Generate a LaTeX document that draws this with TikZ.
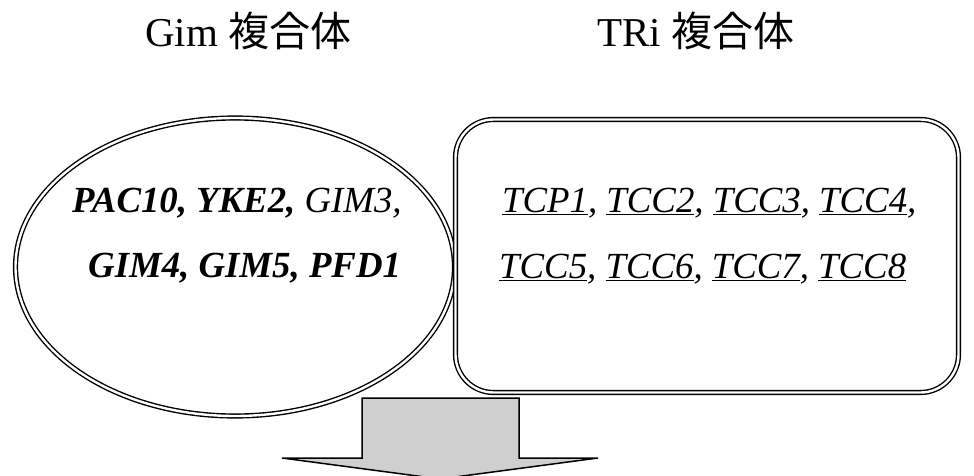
\documentclass[tikz,border=0pt]{standalone}
\usepackage{fontspec}
\setmainfont{Liberation Serif}
\newfontfamily\cjk{Noto Sans CJK JP}
\usetikzlibrary{shapes.geometric}
\tikzset{
  dbl/.style={draw=black, line width=1.4pt, double=white, double distance=2.4pt},
  gene/.style={anchor=base west, inner sep=0pt, font=\fontsize{36.8}{40}\selectfont\itshape},
  title/.style={anchor=base west, inner sep=0pt, font=\fontsize{41}{44}\selectfont},
  blockarrow/.style={draw=black, line width=1.5pt, fill=gray!38, line join=miter}
}
\begin{document}
\begin{tikzpicture}[x=1pt,y=-1pt]
\useasboundingbox (0,0) rectangle (974,476);
\clip (0,0) rectangle (974,476);
% block arrow
\path[blockarrow] (362,398) -- (519,398) -- (519,458) -- (598,458) -- (440,479) -- (282,458) -- (362,458) -- cycle;
% complexes
\node[dbl, ellipse, minimum width=439pt, minimum height=298pt, inner sep=0pt] (gim) at (235,267) {};
\node[dbl, rectangle, rounded corners=38pt, minimum width=503pt, minimum height=273pt, inner sep=0pt] (tri) at (707,256) {};
% titles
\node[title] (t1) at (145,47) {Gim {\cjk 複合体}};
\node[title] (t2) at (597,47) {TRi {\cjk 複合体}};
% gene lists
\node[gene, font=\fontsize{36.8}{40}\selectfont\bfseries\itshape] (g1) at (72,212) {PAC10, YKE2, \textmd{GIM3,}};
\node[gene, font=\fontsize{36.8}{40}\selectfont\bfseries\itshape] (g2) at (88,277) {GIM4, GIM5, PFD1};
\node[gene] (r1) at (502,212) {\underline{TCP1}, \underline{TCC2}, \underline{TCC3}, \underline{TCC4},};
\node[gene] (r2) at (499,278) {\underline{TCC5}, \underline{TCC6}, \underline{TCC7}, \underline{TCC8}};
\end{tikzpicture}
\end{document}
